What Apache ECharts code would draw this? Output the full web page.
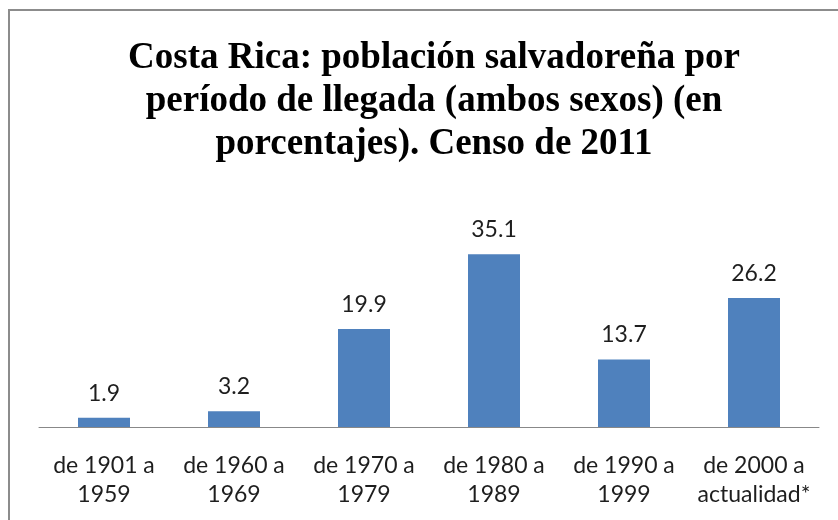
<!DOCTYPE html>
<html>
<head>
<meta charset="utf-8">
<script src="https://cdn.jsdelivr.net/npm/echarts@6/dist/echarts.min.js"></script>
<style>
  html, body { margin: 0; padding: 0; background: #fff; }
  #chart { width: 838px; height: 520px; }
</style>
</head>
<body>
<div id="chart"></div>
<script>
// datos del gráfico
var categorias = ['de 1901 a\n1959', 'de 1960 a\n1969', 'de 1970 a\n1979', 'de 1980 a\n1989', 'de 1990 a\n1999', 'de 2000 a\nactualidad*'];
var porcentajes = [1.9, 3.2, 19.9, 35.1, 13.7, 26.2];
var titulo = 'Costa Rica: población salvadoreña por\nperíodo de llegada (ambos sexos) (en\nporcentajes). Censo de 2011';

var chart = echarts.init(document.getElementById('chart'));

var option = {
    backgroundColor: '#fff',
    animation: false,
    title: {
        text: titulo,
        left: 429,
        textAlign: 'center',
        top: 32,
        textStyle: {
            fontFamily: 'Liberation Serif',
            fontWeight: 'bold',
            fontSize: 37,
            lineHeight: 43,
            color: '#000'
        }
    },
    // borde del área del gráfico
    graphic: [{
        type: 'rect',
        shape: { x: 9, y: 10, width: 860, height: 540 },
        style: { fill: 'none', stroke: '#8c8c8c', lineWidth: 2 },
        silent: true
    }],
    grid: {
        left: 39,
        right: 19,
        top: 230,
        bottom: 93,
        containLabel: false
    },
    xAxis: {
        type: 'category',
        data: categorias,
        axisLine: { show: true, lineStyle: { color: '#888', width: 1 } },
        axisTick: { show: false },
        axisLabel: {
            interval: 0,
            margin: 24,
            fontFamily: 'Lato',
            fontSize: 23,
            lineHeight: 29,
            color: '#1e1e1e'
        }
    },
    yAxis: {
        type: 'value',
        min: 0,
        max: 40,
        interval: 10,
        show: false
    },
    series: [{
        type: 'bar',
        data: porcentajes,
        barWidth: 52,
        itemStyle: { color: '#4f81bd' },
        label: {
            show: true,
            position: 'top',
            distance: 13,
            fontFamily: 'Lato',
            fontSize: 23,
            color: '#1e1e1e',
            formatter: function (p) { return p.value.toFixed(1); }
        }
    }]
};

chart.setOption(option);
</script>
</body>
</html>
